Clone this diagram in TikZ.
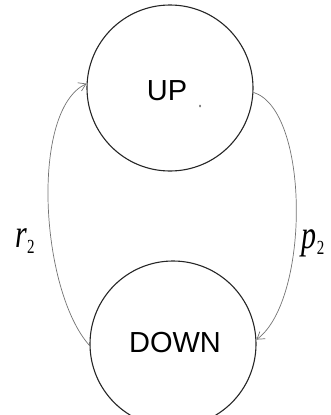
\documentclass[tikz,border=0pt]{standalone}
\usepackage{fontspec}
\setmainfont{Liberation Sans}
\newfontfamily\lblserif{Liberation Serif}
\usetikzlibrary{arrows.meta}
\newcommand{\lblsub}[2]{\scalebox{0.75}[1]{{\fontsize{40}{40}\lblserif\itshape #1}\raisebox{-6pt}{\fontsize{20}{20}\lblserif #2}}}
\begin{document}
\begin{tikzpicture}[x=1pt,y=-1pt,
  state/.style={draw=black!85, line width=1.1pt, circle, minimum size=166pt, inner sep=0pt},
  statetext/.style={inner sep=0pt, font=\fontsize{29}{29}\selectfont},
  arc/.style={draw=black!55, line width=0.7pt, -{Straight Barb[length=7pt,width=9pt]}},
  lbl/.style={inner sep=0pt}]
\useasboundingbox (0,0) rectangle (331,415);
\node[state] (up) at (170,88) {};
\node[state] (down) at (173,344) {};
\node[statetext] (uptext) at (167,91) {UP};
\node[statetext] (downtext) at (175,343) {DOWN};
\fill[black!60] (200,106) ellipse (1pt and 1.5pt);
\draw[arc] (down.181) .. controls (40,290) and (30,110) .. (up.177);
\draw[arc] (up.-3) .. controls (310,110) and (310,300) .. (down.3);
\node[lbl] (r2) at (25,241) {\lblsub{r}{2}};
\node[lbl] (p2) at (313,243) {\lblsub{p}{2}};
\end{tikzpicture}
\end{document}
